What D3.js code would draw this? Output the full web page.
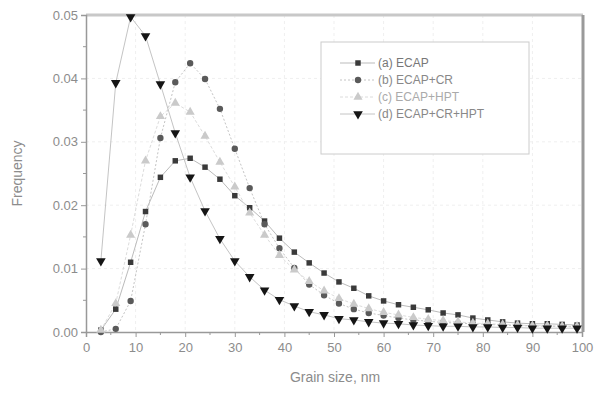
<!DOCTYPE html>
<html>
<head>
<meta charset="utf-8">
<script src="https://cdn.jsdelivr.net/npm/d3@7"></script>
<style>
  body { margin: 0; background: #fff; }
  svg text { font-family: "Liberation Sans", Arial, sans-serif; }
</style>
</head>
<body>
<svg id="chart" width="595" height="394"></svg>
<script>
// grain sizes, nm (every 3 nm)
const grainSizes = d3.range(3, 100, 3);

const freqA = [0.0003, 0.0036, 0.0110, 0.0190, 0.0244, 0.0270, 0.0274, 0.0260, 0.0241, 0.0215, 0.0196,
  0.0175, 0.0148, 0.0126, 0.0109, 0.0093, 0.0079, 0.0069, 0.0057, 0.0049, 0.0043, 0.0039,
  0.0035, 0.0030, 0.0027, 0.0022, 0.0019, 0.0016, 0.0014, 0.0013, 0.0013, 0.0012, 0.0011];
const freqB = [0.0000, 0.0005, 0.0049, 0.0170, 0.0306, 0.0394, 0.0424, 0.0399, 0.0352, 0.0289, 0.0227,
  0.0170, 0.0132, 0.0101, 0.0075, 0.0058, 0.0045, 0.0036, 0.0030, 0.0026, 0.0022, 0.0019,
  0.0017, 0.0015, 0.0014, 0.0013, 0.0012, 0.0011, 0.0010, 0.0010, 0.0009, 0.0009, 0.0008];
const freqC = [0.0003, 0.0045, 0.0153, 0.0270, 0.0340, 0.0361, 0.0347, 0.0309, 0.0268, 0.0229, 0.0188,
  0.0153, 0.0121, 0.0098, 0.0080, 0.0065, 0.0053, 0.0044, 0.0037, 0.0031, 0.0027, 0.0023,
  0.0020, 0.0018, 0.0016, 0.0014, 0.0013, 0.0012, 0.0011, 0.0010, 0.0010, 0.0009, 0.0009];
const freqD = [0.0112, 0.0393, 0.0497, 0.0467, 0.0391, 0.0314, 0.0244, 0.0191, 0.0147, 0.0112, 0.0087,
  0.0066, 0.0051, 0.0041, 0.0032, 0.0027, 0.0021, 0.0019, 0.0016, 0.0014, 0.0013, 0.0011,
  0.0010, 0.0009, 0.0009, 0.0008, 0.0008, 0.0007, 0.0007, 0.0006, 0.0006, 0.0006, 0.0006];

const seriesNames = ["(a) ECAP", "(b) ECAP+CR", "(c) ECAP+HPT", "(d) ECAP+CR+HPT"];
const xTicks = d3.range(0, 101, 10);
const yTicks = [0, 0.01, 0.02, 0.03, 0.04, 0.05];

const series = [
  { name: seriesNames[0], values: freqA, symbol: d3.symbolSquare, size: 30, fill: "#3a3a3a", line: "#bbb", dash: null, text: "#777" },
  { name: seriesNames[1], values: freqB, symbol: d3.symbolCircle, size: 32, fill: "#5a5a5a", line: "#c4c4c4", dash: "2,2", text: "#888" },
  { name: seriesNames[2], values: freqC, symbol: d3.symbolTriangle, size: 36, fill: "#cacaca", line: "#dcdcdc", dash: "3,2", text: "#aaa" },
  { name: seriesNames[3], values: freqD, symbol: d3.symbolTriangle, size: 40, fill: "#151515", line: "#c4c4c4", dash: null, text: "#888", flip: true }
];

const svg = d3.select("#chart");
const plotLeft = 86, plotRight = 582, plotTop = 15, plotBottom = 332;

const x = d3.scaleLinear().domain([0, 100]).range([plotLeft, plotRight]);
const y = d3.scaleLinear().domain([0, 0.05]).range([plotBottom, plotTop]);

// faint grid
const grid = svg.append("g").attr("stroke", "#efefef").attr("stroke-dasharray", "3,3");
grid.selectAll("line.v").data(xTicks.slice(1, -1)).join("line")
  .attr("x1", (d) => x(d)).attr("x2", (d) => x(d)).attr("y1", plotTop).attr("y2", plotBottom);
grid.selectAll("line.h").data(yTicks.slice(1, -1)).join("line")
  .attr("x1", plotLeft).attr("x2", plotRight).attr("y1", (d) => y(d)).attr("y2", (d) => y(d));

// frame: top and right
svg.append("line").attr("x1", plotLeft).attr("x2", plotRight + 1).attr("y1", plotTop).attr("y2", plotTop)
  .attr("stroke", "#c8c8c8").attr("stroke-width", 3);
svg.append("line").attr("x1", plotRight + 1).attr("x2", plotRight + 1).attr("y1", plotTop).attr("y2", plotBottom)
  .attr("stroke", "#9a9a9a").attr("stroke-width", 3);

// axes
const xAxis = svg.append("g").attr("transform", `translate(0,${plotBottom})`)
  .call(d3.axisBottom(x).tickValues(xTicks).tickFormat(d3.format("d")).tickSize(5).tickPadding(6));
xAxis.append("g").selectAll("line").data(d3.range(5, 100, 10)).join("line")
  .attr("x1", (d) => x(d)).attr("x2", (d) => x(d)).attr("y1", 0).attr("y2", 3);

const yAxis = svg.append("g").attr("transform", `translate(${plotLeft},0)`)
  .call(d3.axisLeft(y).tickValues(yTicks).tickFormat(d3.format(".2f")).tickSize(5).tickPadding(3));
yAxis.append("g").selectAll("line").data([0.005, 0.015, 0.025, 0.035, 0.045]).join("line")
  .attr("x1", -3).attr("x2", 0).attr("y1", (d) => y(d)).attr("y2", (d) => y(d));

[xAxis, yAxis].forEach((g) => {
  g.select(".domain").attr("stroke", "#999").attr("stroke-width", 1.5);
  g.selectAll("line").attr("stroke", "#999");
  g.selectAll("text").attr("fill", "#8c8c8c").style("font-size", "13px");
});

svg.append("text").attr("x", 335).attr("y", 382).attr("text-anchor", "middle")
  .attr("fill", "#8c8c8c").style("font-size", "14px").text("Grain size, nm");
svg.append("text").attr("transform", `translate(22,${(plotTop + plotBottom) / 2}) rotate(-90)`)
  .attr("text-anchor", "middle").attr("fill", "#8c8c8c").style("font-size", "14px").text("Frequency");

// series
const line = d3.line().x((d) => x(d[0])).y((d) => y(d[1]));
const plot = svg.append("g");
series.forEach((s) => {
  const pts = grainSizes.map((g, i) => [g, s.values[i]]);
  plot.append("path").datum(pts).attr("d", line)
    .attr("fill", "none").attr("stroke", s.line).attr("stroke-width", 1)
    .attr("stroke-dasharray", s.dash);
});
series.forEach((s) => {
  const pts = grainSizes.map((g, i) => [g, s.values[i]]);
  plot.append("g").selectAll("path").data(pts).join("path")
    .attr("transform", (d) => `translate(${x(d[0])},${y(d[1])})${s.flip ? " rotate(180)" : ""}`)
    .attr("d", d3.symbol().type(s.symbol).size(s.size))
    .attr("fill", s.fill);
});

// legend
const legend = svg.append("g");
legend.append("rect").attr("x", 321).attr("y", 42).attr("width", 208).attr("height", 112)
  .attr("fill", "#fff").attr("stroke", "#ccc").attr("stroke-width", 1);
series.forEach((s, i) => {
  const ly = 63 + i * 17;
  legend.append("line").attr("x1", 340).attr("x2", 375).attr("y1", ly).attr("y2", ly)
    .attr("stroke", s.line).attr("stroke-dasharray", s.dash);
  legend.append("path")
    .attr("transform", `translate(358,${ly})${s.flip ? " rotate(180)" : ""}`)
    .attr("d", d3.symbol().type(s.symbol).size(s.size)).attr("fill", s.fill);
  legend.append("text").attr("x", 378).attr("y", ly + 4)
    .attr("fill", s.text).style("font-size", "12px").text(s.name);
});
</script>
</body>
</html>
